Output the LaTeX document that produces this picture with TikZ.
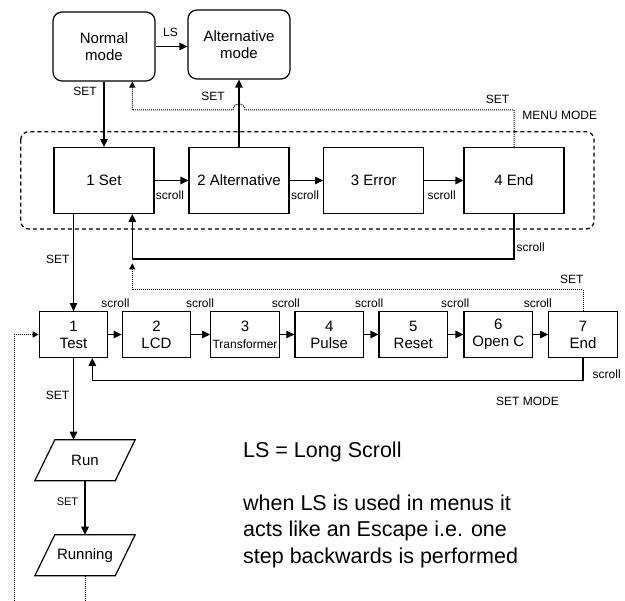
\documentclass[tikz,border=0pt]{standalone}
\usepackage{fontspec}
\setmainfont{Liberation Sans}
\usetikzlibrary{arrows.meta}
\begin{document}
\begin{tikzpicture}[x=1pt,y=-1pt,
  mode/.style={draw, line width=1.2pt, rounded corners=9pt, minimum width=102pt, minimum height=69pt, align=center, inner sep=0pt, font=\fontsize{15}{17.5}\selectfont},
  menubox/.style={draw, line width=1.2pt, minimum width=100pt, minimum height=65.6pt, inner sep=0pt, font=\fontsize{15}{17.5}\selectfont},
  setbox/.style={draw, line width=1.2pt, minimum width=68.5pt, minimum height=45.6pt, align=center, inner sep=0pt, font=\fontsize{15}{17}\selectfont},
  io/.style={minimum width=80pt, minimum height=40.7pt, inner sep=0pt, font=\fontsize{15}{17}\selectfont},
  ioline/.style={line width=1.2pt, line join=miter},
  lbl/.style={inner sep=0pt, font=\fontsize{12}{14}\selectfont},
  note/.style={inner sep=0pt, anchor=base west, font=\fontsize{21.5}{26}\selectfont},
  arr/.style={line width=1.2pt, -{Triangle[length=8pt,width=7.5pt]}},
  dotline/.style={line width=1pt, dash pattern=on 1pt off 1pt},
  dotarr/.style={dotline, -{Triangle[length=6pt,width=6pt]}}
]
\useasboundingbox (0,0) rectangle (625,601);

% menu mode frame
\draw[line width=1.2pt, dash pattern=on 4pt off 3pt, rounded corners=8pt] (20.7,131.7) rectangle (594,229);

% mode nodes
\node[mode] (normal) at (104,46.5) {Normal\\mode};
\node[mode] (alt) at (239,44.5) {Alternative\\mode};

% menu boxes
\node[menubox] (m1) at (104,180.5) {1 Set};
\node[menubox] (m2) at (239,180.5) {2 Alternative};
\node[menubox] (m3) at (373.7,180.5) {3 Error};
\node[menubox] (m4) at (514,180.5) {4 End};

% set boxes
\node[setbox] (s1) at (73.5,334.5) {1\\Test};
\node[setbox] (s2) at (156.5,334.5) {2\\LCD};
\node[setbox] (s3) at (245,334.5) {3\\{\fontsize{12}{14}\selectfont Transformer}};
\node[setbox] (s4) at (329.2,334.5) {4\\Pulse};
\node[setbox] (s5) at (413.3,334.5) {5\\Reset};
\node[setbox] (s6) at (498.3,334.5) {6\\Open C};
\node[setbox] (s7) at (583,334.5) {7\\End};

% run nodes (parallelograms)
\node[io] (run) at (85,460.3) {Run};
\draw[ioline] ([xshift=10pt]run.north west) -- ([xshift=10pt]run.north east) -- ([xshift=-10pt]run.south east) -- ([xshift=-10pt]run.south west) -- cycle;
\node[io] (running) at (85,555.3) {Running};
\draw[ioline] ([xshift=10pt]running.north west) -- ([xshift=10pt]running.north east) -- ([xshift=-10pt]running.south east) -- ([xshift=-10pt]running.south west) -- cycle;

% helper coordinates
\coordinate (d1) at (132.3,110);
\coordinate (l1) at (132.3,259);
\coordinate (d2) at (132.3,290);
\coordinate (d2e) at (132.3,263.3);
\coordinate (l2) at (92.3,380.7);
\coordinate (d3) at (14,601);
\coordinate (d4) at (85,601);

% connectors top
\draw[arr] (normal.east) -- (normal.east -| alt.west);
\draw[arr] (normal.south) -- (m1.north);
\draw[arr] (m2.north) -- (alt.south);
\draw[dotarr] (m4.north) -- (m4.north |- d1) -- (245,110) arc[start angle=0, end angle=-180, radius=6] -- (d1) -- (d1 |- normal.south);

% menu connectors
\draw[arr] (m1) -- (m2);
\draw[arr] (m2) -- (m3);
\draw[arr] (m3) -- (m4);
\draw[arr] (m4.south) -- (m4.south |- l1) -- (l1) -- (l1 |- m1.south);
\draw[arr] (s1.north |- m1.south) -- (s1.north);
\draw[dotarr] (s7.north) -- (s7.north |- d2) -- (d2) -- (d2e);

% set connectors
\draw[arr] (s1) -- (s2);
\draw[arr] (s2) -- (s3);
\draw[arr] (s3) -- (s4);
\draw[arr] (s4) -- (s5);
\draw[arr] (s5) -- (s6);
\draw[arr] (s6) -- (s7);
\draw[arr] (s7.south) -- (s7.south |- l2) -- (l2) -- (l2 |- s1.south);
\draw[dotarr] (d3) -- (d3 |- s1.west) -- (s1.west);

% run connectors
\draw[arr] (s1.south) -- (s1.south |- run.north);
\draw[arr] (run.south) -- (running.north);
\draw[dotline] (running.south) -- (d4);

% labels
\node[lbl] (tLS) at (170.5,32) {LS};
\node[lbl] (tSET1) at (85,91) {SET};
\node[lbl] (tSET2) at (213,96) {SET};
\node[lbl] (tSET3) at (497.5,99) {SET};
\node[lbl] (tMM) at (559.7,115.3) {MENU MODE};
\node[lbl] (tsc1) at (170,195) {scroll};
\node[lbl] (tsc2) at (305,195) {scroll};
\node[lbl] (tsc3) at (441.7,195) {scroll};
\node[lbl, anchor=west] (tsc4) at (516.5,247.3) {scroll};
\node[lbl] (tSET4) at (57.7,259.3) {SET};
\node[lbl] (tSET5) at (571.7,279) {SET};
\node[lbl] (ts1) at (115.5,303) {scroll};
\node[lbl] (ts2) at (200,303) {scroll};
\node[lbl] (ts3) at (285.8,303) {scroll};
\node[lbl] (ts4) at (369.2,303) {scroll};
\node[lbl] (ts5) at (455.2,303) {scroll};
\node[lbl] (ts6) at (537.8,303) {scroll};
\node[lbl, anchor=west] (ts7) at (592.5,374) {scroll};
\node[lbl] (tSETM) at (527.5,401) {SET MODE};
\node[lbl] (tSET6) at (57.5,395) {SET};
\node[lbl, font=\fontsize{11}{13}\selectfont] (tSET7) at (67.5,502) {SET};

% notes
\node[note] (n1) at (243,457.3) {LS = Long Scroll};
\node[note] (n2) at (243,510.7) {when LS is used in menus it};
\node[note] (n3) at (243,537) {acts like an Escape i.e. one};
\node[note] (n4) at (243,563.3) {step backwards is performed};
\end{tikzpicture}
\end{document}
